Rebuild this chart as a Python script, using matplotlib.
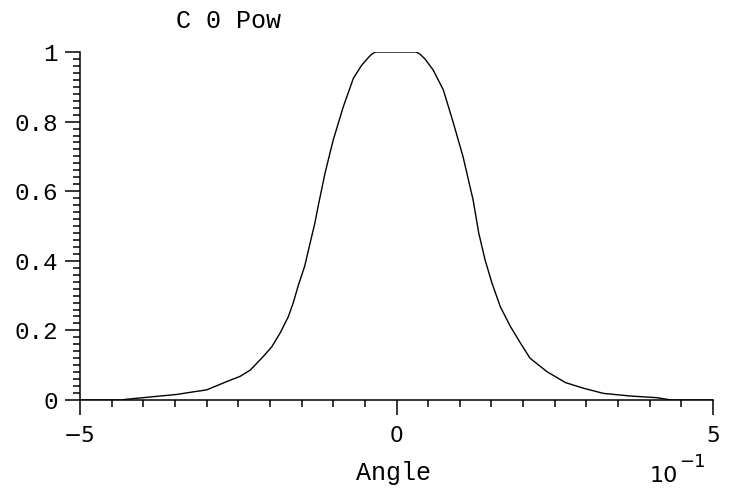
import matplotlib
matplotlib.use("Agg")
import matplotlib.pyplot as plt
from matplotlib.ticker import MultipleLocator, NullFormatter, FixedFormatter

# Angle in units of 1e-1
angle = [-5.0, -4.35, -4.27, -4.0, -3.73, -3.47, -3.26, -3.0, -2.68, -2.47,
         -2.31, -2.11, -1.97, -1.84, -1.71, -1.63, -1.55, -1.45, -1.37, -1.29,
         -1.24, -1.13, -1.0, -0.84, -0.68, -0.55, -0.45, -0.39, -0.33,
         0.31, 0.37, 0.45, 0.58, 0.74, 0.90, 1.05, 1.21, 1.30, 1.40, 1.51, 1.64,
         1.80, 1.96, 2.11, 2.38, 2.67, 2.95, 3.27, 3.69, 4.11, 4.27, 4.35, 5.0]
power = [0.0, 0.0, 0.002, 0.0067, 0.0115, 0.016, 0.022, 0.029, 0.053, 0.068,
         0.086, 0.124, 0.153, 0.192, 0.239, 0.280, 0.330, 0.385, 0.447, 0.508,
         0.555, 0.651, 0.747, 0.843, 0.925, 0.962, 0.983, 0.994, 1.0,
         1.0, 0.994, 0.980, 0.948, 0.891, 0.795, 0.70, 0.575, 0.479, 0.402, 0.335, 0.268,
         0.211, 0.163, 0.120, 0.081, 0.050, 0.034, 0.019, 0.0115, 0.0067, 0.002, 0.0, 0.0]

x_ticks = [-5, 0, 5]
y_ticks = [0, 0.2, 0.4, 0.6, 0.8, 1.0]
title = "C 0 Pow"
xlabel = "Angle"

W, H = 731, 488
fig = plt.figure(figsize=(W / 100, H / 100), dpi=100)
ax = fig.add_axes([80 / W, 1 - 400 / H, (713 - 80) / W, (400 - 52) / H])

ax.plot(angle, power, color="black", lw=1.0)

ax.set_xlim(-5, 5)
ax.set_ylim(0, 1)
for s in ["top", "right"]:
    ax.spines[s].set_visible(False)
for s in ["left", "bottom"]:
    ax.spines[s].set_linewidth(1.1)

ax.set_xticks(x_ticks)
ax.xaxis.set_major_formatter(FixedFormatter([f"{v:g}".replace("-", "\u2212") for v in x_ticks]))
ax.set_yticks(y_ticks)
ax.yaxis.set_major_formatter(FixedFormatter([f"{v:g}" for v in y_ticks]))
ax.xaxis.set_minor_locator(MultipleLocator(0.5))
ax.yaxis.set_minor_locator(MultipleLocator(0.02))
ax.xaxis.set_minor_formatter(NullFormatter())
ax.yaxis.set_minor_formatter(NullFormatter())

ax.tick_params(axis="both", which="major", direction="out", length=10.8, width=1.1, color="black")
ax.tick_params(axis="both", which="minor", direction="out", length=5.0, width=1.1, color="black")
ax.tick_params(axis="y", which="major", pad=5, labelsize=17.5, labelfontfamily="Liberation Mono")
ax.tick_params(axis="x", which="major", pad=8, labelsize=15.5, labelfontfamily="DejaVu Sans")

fig.text(229 / W, 1 - 28 / H, title, family="Liberation Mono", fontsize=18,
         ha="center", va="baseline")
fig.text(394 / W, 1 - 480 / H, xlabel, family="Liberation Mono", fontsize=18,
         ha="center", va="baseline")
fig.text(663.5 / W, 1 - 482 / H, "10", family="DejaVu Sans", fontsize=16,
         ha="center", va="baseline")
fig.text(679 / W, 1 - 467 / H, "\u22121", family="DejaVu Sans", fontsize=13,
         ha="left", va="baseline")

fig.savefig("out.png", dpi=100)
